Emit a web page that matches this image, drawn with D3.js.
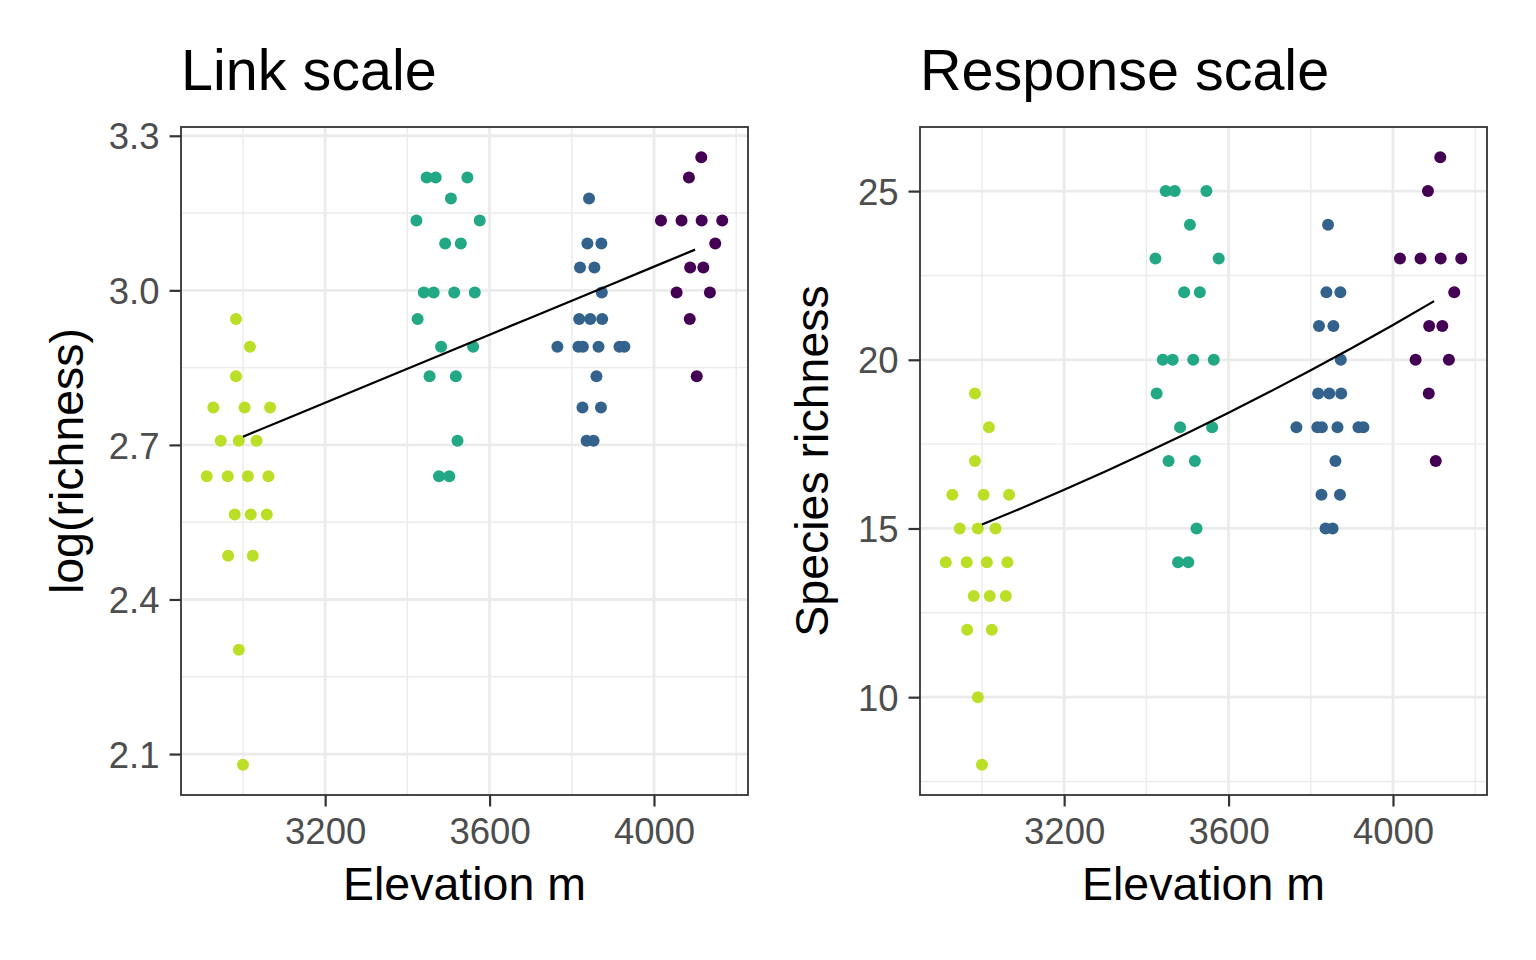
<!DOCTYPE html>
<html>
<head>
<meta charset="utf-8">
<script src="https://cdn.jsdelivr.net/npm/d3@7"></script>
<style>
  html, body { margin: 0; padding: 0; background: #ffffff; }
  svg { display: block; font-family: "Liberation Sans", Arial, Helvetica, sans-serif; }
</style>
</head>
<body>
<svg id="chart" width="1536" height="960"></svg>
<script>
// ---------------- DATA ----------------
// Four sites (ordered by elevation), jittered elevation (m) and species richness per plot
const siteColors = ["#BBDF27", "#22A884", "#33638D", "#440154"];

const site1Elev = [2983, 3017, 2983, 2928, 3004, 3066, 2946, 2990, 3033, 2912, 2963, 3012, 3062, 2980, 3019, 3058, 2964, 3024, 2990, 3000];
const site1Rich = [19, 18, 17, 16, 16, 16, 15, 15, 15, 14, 14, 14, 14, 13, 13, 13, 12, 12, 10, 8];

const site2Elev = [3447, 3469, 3546, 3506, 3422, 3576, 3492, 3530, 3440, 3464, 3514, 3564, 3425, 3482, 3560, 3454, 3518, 3522, 3477, 3502];
const site2Rich = [25, 25, 25, 24, 23, 23, 22, 22, 20, 20, 20, 20, 19, 18, 18, 17, 17, 15, 14, 14];

const site3Elev = [3842, 3838, 3872, 3820, 3855, 3873, 3818, 3845, 3874, 3765, 3816, 3827, 3865, 3916, 3928, 3860, 3826, 3871, 3836, 3853];
const site3Rich = [24, 22, 22, 21, 21, 20, 19, 19, 19, 18, 18, 18, 18, 18, 18, 17, 16, 16, 15, 15];

const site4Elev = [4115, 4085, 4017, 4067, 4116, 4166, 4149, 4088, 4120, 4055, 4136, 4087, 4104];
const site4Rich = [26, 25, 23, 23, 23, 23, 22, 21, 21, 20, 20, 19, 17];

// Fitted Poisson GLM (prediction line)
const fitElev = [3000, 3100, 3200, 3300, 3400, 3500, 3600, 3700, 3800, 3900, 4000, 4100];
const fitLink = [2.716, 2.749, 2.782, 2.815, 2.848, 2.881, 2.914, 2.947, 2.980, 3.013, 3.046, 3.079];
const fitResp = [15.12, 15.62, 16.15, 16.69, 17.25, 17.83, 18.43, 19.05, 19.69, 20.35, 21.03, 21.74];

// Axis ticks
const xMajor = [3200, 3600, 4000];
const xMinor = [3000, 3400, 3800, 4200];
const yLinkMajor = [2.1, 2.4, 2.7, 3.0, 3.3];
const yLinkMinor = [2.25, 2.55, 2.85, 3.15];
const yRespMajor = [10, 15, 20, 25];
const yRespMinor = [7.5, 12.5, 17.5, 22.5];

const titles = ["Link scale", "Response scale"];
const xTitle = "Elevation m";
const yTitles = ["log(richness)", "Species richness"];

// ---------------- BUILD ----------------
const sites = [
  [site1Elev, site1Rich], [site2Elev, site2Rich], [site3Elev, site3Rich], [site4Elev, site4Rich]
];
const points = [];
sites.forEach(([e, r], gi) => e.forEach((v, i) => points.push({elev: v, rich: r[i], g: gi})));
const fit = fitElev.map((e, i) => ({elev: e, link: fitLink[i], resp: fitResp[i]}));

const svg = d3.select("#chart");

function expand(ext, f) {
  const d = ext[1] - ext[0];
  return [ext[0] - d * f, ext[1] + d * f];
}

const panels = [
  {
    left: 181, right: 748, top: 127, bottom: 795,
    yVal: d => Math.log(d.rich), fitVal: d => d.link,
    yMajor: yLinkMajor, yMinor: yLinkMinor, fmt: d3.format(".1f"),
    title: titles[0], yTitle: yTitles[0], yTitleX: 83
  },
  {
    left: 920, right: 1487, top: 127, bottom: 795,
    yVal: d => d.rich, fitVal: d => d.resp,
    yMajor: yRespMajor, yMinor: yRespMinor, fmt: d3.format("d"),
    title: titles[1], yTitle: yTitles[1], yTitleX: 828
  }
];

const xDomain = expand(d3.extent(points, d => d.elev), 0.05);

panels.forEach(p => {
  const x = d3.scaleLinear().domain(xDomain).range([p.left, p.right]);
  const y = d3.scaleLinear().domain(expand(d3.extent(points, p.yVal), 0.05)).range([p.bottom, p.top]);
  const g = svg.append("g");

  g.append("rect").attr("x", p.left).attr("y", p.top)
    .attr("width", p.right - p.left).attr("height", p.bottom - p.top).attr("fill", "#ffffff");

  // minor grid
  g.append("g").selectAll("line").data(xMinor.filter(v => v >= xDomain[0] && v <= xDomain[1])).join("line")
    .attr("x1", d => x(d)).attr("x2", d => x(d)).attr("y1", p.top).attr("y2", p.bottom)
    .attr("stroke", "#EBEBEB").attr("stroke-width", 1.4);
  g.append("g").selectAll("line").data(p.yMinor.filter(v => v >= y.domain()[0] && v <= y.domain()[1])).join("line")
    .attr("x1", p.left).attr("x2", p.right).attr("y1", d => y(d)).attr("y2", d => y(d))
    .attr("stroke", "#EBEBEB").attr("stroke-width", 1.4);
  // major grid
  g.append("g").selectAll("line").data(xMajor).join("line")
    .attr("x1", d => x(d)).attr("x2", d => x(d)).attr("y1", p.top).attr("y2", p.bottom)
    .attr("stroke", "#EBEBEB").attr("stroke-width", 2.8);
  g.append("g").selectAll("line").data(p.yMajor).join("line")
    .attr("x1", p.left).attr("x2", p.right).attr("y1", d => y(d)).attr("y2", d => y(d))
    .attr("stroke", "#EBEBEB").attr("stroke-width", 2.8);

  // points
  g.append("g").selectAll("circle").data(points).join("circle")
    .attr("cx", d => x(d.elev)).attr("cy", d => y(p.yVal(d))).attr("r", 6)
    .attr("fill", d => siteColors[d.g]);

  // fit line
  g.append("path").datum(fit)
    .attr("d", d3.line().x(d => x(d.elev)).y(d => y(p.fitVal(d))))
    .attr("fill", "none").attr("stroke", "#000000").attr("stroke-width", 2.2);

  // border
  g.append("rect").attr("x", p.left).attr("y", p.top)
    .attr("width", p.right - p.left).attr("height", p.bottom - p.top)
    .attr("fill", "none").attr("stroke", "#333333").attr("stroke-width", 1.8);

  // axes
  const xAxis = d3.axisBottom(x).tickValues(xMajor).tickSize(11.5).tickPadding(12).tickFormat(d3.format("d"));
  const ax = g.append("g").attr("transform", `translate(0,${p.bottom})`).call(xAxis);
  const yAxis = d3.axisLeft(y).tickValues(p.yMajor).tickSize(11.5).tickPadding(10).tickFormat(p.fmt);
  const ay = g.append("g").attr("transform", `translate(${p.left},0)`).call(yAxis);
  [ax, ay].forEach(a => {
    a.select(".domain").remove();
    a.selectAll(".tick line").attr("stroke", "#333333").attr("stroke-width", 2.2);
    a.selectAll(".tick text").attr("fill", "#4D4D4D").attr("font-size", 36.5)
      .attr("font-family", "'Liberation Sans', Arial, Helvetica, sans-serif");
  });
  ax.selectAll(".tick text").attr("dy", "0.71em");
  ay.selectAll(".tick text").attr("dy", "0.36em");

  // titles
  g.append("text").attr("x", p.left).attr("y", 90).attr("font-size", 57.5).attr("fill", "#000")
    .text(p.title);
  g.append("text").attr("x", (p.left + p.right) / 2).attr("y", 900).attr("text-anchor", "middle")
    .attr("font-size", 46.5).attr("fill", "#000").text(xTitle);
  g.append("text")
    .attr("transform", `translate(${p.yTitleX},${(p.top + p.bottom) / 2}) rotate(-90)`)
    .attr("text-anchor", "middle").attr("font-size", 46.5).attr("fill", "#000").text(p.yTitle);
});
</script>
</body>
</html>
